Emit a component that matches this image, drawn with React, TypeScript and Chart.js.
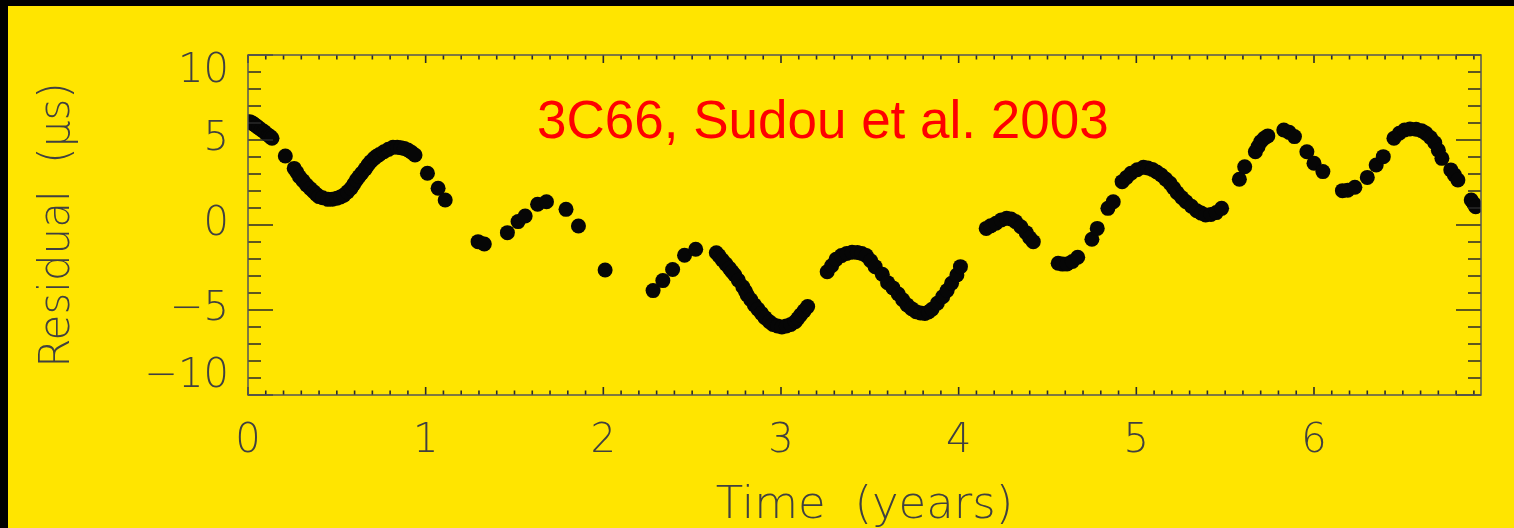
import React, { useEffect, useRef } from "react";
import { Chart, registerables } from "chart.js";

Chart.register(...registerables);

// ---- Data ----
const times = [
  0.01, 0.02, 0.03, 0.04, 0.05, 0.06, 0.075, 0.09, 0.1, 0.115, 0.125, 0.135,
  0.21, 0.26, 0.275, 0.29, 0.31, 0.33, 0.35, 0.37, 0.385, 0.4, 0.42, 0.45, 0.475, 0.5, 0.52, 0.54,
  0.56, 0.58, 0.595, 0.61, 0.625, 0.64, 0.66, 0.675, 0.69, 0.71, 0.725, 0.74, 0.765, 0.79, 0.816,
  0.84, 0.86, 0.88, 0.9, 0.92, 0.94, 1.01, 1.07, 1.11,
  1.295, 1.33, 1.46, 1.52, 1.56, 1.63, 1.68, 1.79, 1.86, 2.01,
  2.28, 2.335, 2.39, 2.457, 2.52, 2.636, 2.65, 2.67, 2.69, 2.71, 2.725, 2.74, 2.76, 2.785, 2.8,
  2.81, 2.83, 2.85, 2.87, 2.89, 2.91, 2.935, 2.955, 2.98, 3.005, 3.03, 3.055, 3.08, 3.095, 3.11,
  3.13, 3.15,
  3.26, 3.285, 3.31, 3.34, 3.37, 3.4, 3.43, 3.455, 3.48, 3.505, 3.53, 3.57, 3.6, 3.63, 3.66, 3.685,
  3.71, 3.735, 3.76, 3.785, 3.81, 3.83, 3.85, 3.88, 3.91, 3.935, 3.96, 3.99, 4.01,
  4.155, 4.18, 4.21, 4.24, 4.27, 4.295, 4.32, 4.35, 4.38, 4.4, 4.42,
  4.56, 4.585, 4.61, 4.64, 4.67, 4.75, 4.78, 4.84, 4.87, 4.92, 4.945, 4.97, 5.005, 5.04, 5.065,
  5.09, 5.115, 5.14, 5.165, 5.19, 5.21, 5.23, 5.255, 5.28, 5.31, 5.34, 5.365, 5.39, 5.42, 5.45, 5.48,
  5.58, 5.61, 5.67, 5.685, 5.7, 5.72, 5.74, 5.83, 5.86, 5.89, 5.96, 6.0, 6.05,
  6.16, 6.19, 6.23, 6.3, 6.35, 6.39, 6.45, 6.48, 6.51, 6.54, 6.575, 6.605, 6.63, 6.655, 6.68, 6.7,
  6.72, 6.77, 6.79, 6.81, 6.885, 6.9, 6.91,
];
const residuals = [
  6.08, 6.02, 5.95, 5.88, 5.8, 5.72, 5.6, 5.5, 5.4, 5.28, 5.2, 5.1,
  4.06, 3.33, 3.1, 2.84, 2.6, 2.35, 2.15, 1.96, 1.8, 1.67, 1.6, 1.51, 1.52, 1.57, 1.65, 1.76,
  1.95, 2.16, 2.4, 2.65, 2.85, 3.04, 3.3, 3.53, 3.72, 3.92, 4.05, 4.15, 4.31, 4.45, 4.57,
  4.58, 4.55, 4.5, 4.41, 4.28, 4.12, 3.04, 2.16, 1.47,
  -0.98, -1.12, -0.45, 0.2, 0.53, 1.22, 1.37, 0.92, -0.06, -2.65,
  -3.86, -3.27, -2.62, -1.78, -1.43, -1.63, -1.8, -2.06, -2.3, -2.55, -2.75, -2.94, -3.25, -3.63, -3.9,
  -4.12, -4.4, -4.7, -4.95, -5.2, -5.45, -5.69, -5.85, -5.94, -6.0, -5.94, -5.85, -5.69, -5.5, -5.29,
  -5.05, -4.8,
  -2.75, -2.4, -2.02, -1.8, -1.67, -1.6, -1.62, -1.68, -1.8, -2.1, -2.45, -2.9, -3.39, -3.7, -4.06, -4.4,
  -4.7, -4.92, -5.1, -5.18, -5.2, -5.12, -4.96, -4.6, -4.22, -3.85, -3.43, -2.94, -2.45,
  -0.2, -0.05, 0.1, 0.3, 0.4, 0.35, 0.2, -0.1, -0.45, -0.75, -0.98,
  -2.25, -2.3, -2.29, -2.15, -1.9, -0.84, -0.2, 0.98, 1.37, 2.55, 2.8, 3.04, 3.25, 3.39, 3.35,
  3.27, 3.12, 2.94, 2.7, 2.45, 2.18, 1.9, 1.62, 1.37, 1.1, 0.84, 0.7, 0.59, 0.62, 0.73, 0.98,
  2.69, 3.43, 4.31, 4.6, 4.9, 5.1, 5.24, 5.59, 5.45, 5.2, 4.31, 3.63, 3.14,
  2.02, 2.05, 2.22, 2.8, 3.53, 4.02, 5.1, 5.4, 5.59, 5.65, 5.63, 5.55, 5.39, 5.15, 4.84, 4.4,
  3.92, 3.24, 2.95, 2.65, 1.47, 1.25, 1.08,
];

const xTickValues = [0, 1, 2, 3, 4, 5, 6];
const xTickLabels = ["0", "1", "2", "3", "4", "5", "6"];
const yTickValues = [-10, -5, 0, 5, 10];
const yTickLabels = ["\u221210", "\u22125", "0", "5", "10"];

const titleText = "3C66, Sudou et al. 2003";
const xTitleText = "Time  (years)";
const yTitleText = "Residual  (\u03bcs)";

const X_MIN = 0;
const X_MAX = 6.94;
const Y_MIN = -10;
const Y_MAX = 10;

const YELLOW = "#ffe500";
const TEXT_GREY = "#404040";

const idlPlugin = {
  id: "idlFrame",
  beforeDraw(chart: any) {
    const { ctx, width, height } = chart;
    ctx.save();
    ctx.fillStyle = "#000";
    ctx.fillRect(0, 0, width, height);
    ctx.fillStyle = YELLOW;
    ctx.fillRect(8, 6, width - 8, height - 6);
    ctx.restore();
  },
  afterDatasetsDraw(chart: any) {
    const { ctx, chartArea, scales } = chart;
    const { left, right, top, bottom } = chartArea;
    const x = scales.x;
    const y = scales.y;
    ctx.save();

    // tick marks (inward, on all four sides)
    ctx.strokeStyle = "#2a2a2a";
    ctx.lineWidth = 1.6;
    ctx.beginPath();
    for (let i = 0; i <= 70; i++) {
      const v = i / 10;
      if (v > X_MAX + 1e-9) break;
      const px = x.getPixelForValue(v);
      const len = i % 10 === 0 ? 8 : 4.5;
      ctx.moveTo(px, bottom);
      ctx.lineTo(px, bottom - len);
      ctx.moveTo(px, top);
      ctx.lineTo(px, top + len);
    }
    for (let v = Y_MIN; v <= Y_MAX; v++) {
      const py = y.getPixelForValue(v);
      const len = v % 5 === 0 ? 25 : 13;
      ctx.moveTo(left, py);
      ctx.lineTo(left + len, py);
      ctx.moveTo(right, py);
      ctx.lineTo(right - len, py);
    }
    ctx.stroke();

    // frame
    ctx.strokeStyle = "#555";
    ctx.lineWidth = 1.5;
    ctx.strokeRect(left, top, right - left, bottom - top);

    // tick labels
    ctx.fillStyle = TEXT_GREY;
    ctx.font = '200 40px "DejaVu Sans"';
    ctx.textAlign = "center";
    ctx.textBaseline = "middle";
    xTickValues.forEach((v, i) => {
      ctx.fillText(xTickLabels[i], x.getPixelForValue(v), bottom + 47);
    });
    ctx.textAlign = "right";
    yTickValues.forEach((v, i) => {
      let py = y.getPixelForValue(v);
      py = Math.min(Math.max(py, top + 17), bottom - 18);
      ctx.fillText(yTickLabels[i], left - 19, py);
    });

    // axis titles
    ctx.font = '200 45px "DejaVu Sans"';
    ctx.textAlign = "center";
    ctx.textBaseline = "alphabetic";
    ctx.fillText(xTitleText, (left + right) / 2, 518);

    ctx.save();
    ctx.font = '200 42px "DejaVu Sans"';
    ctx.translate(58, (top + bottom) / 2);
    ctx.rotate(-Math.PI / 2);
    ctx.textAlign = "center";
    ctx.textBaseline = "middle";
    ctx.fillText(yTitleText, 0, 0);
    ctx.restore();

    // red annotation
    ctx.fillStyle = "#ff0000";
    ctx.font = '53px "Liberation Sans"';
    ctx.textAlign = "left";
    ctx.textBaseline = "alphabetic";
    ctx.fillText(titleText, 537, 138);

    ctx.restore();
  },
};

export default function App() {
  const ref = useRef<HTMLCanvasElement>(null);

  useEffect(() => {
    document.body.style.margin = "0";
    const canvas = ref.current;
    if (!canvas) return;
    const chart = new Chart(canvas, {
      type: "scatter",
      data: {
        datasets: [
          {
            data: times.map((t, i) => ({ x: t, y: residuals[i] })),
            backgroundColor: "#060606",
            borderColor: "#060606",
            borderWidth: 0,
            pointRadius: 7.5,
            pointHoverRadius: 7.5,
            clip: 0,
          } as any,
        ],
      },
      options: {
        responsive: false,
        animation: false,
        events: [],
        layout: { padding: { left: 248, right: 33, top: 55, bottom: 133 } },
        plugins: {
          legend: { display: false },
          tooltip: { enabled: false },
          title: { display: false },
        },
        scales: {
          x: { type: "linear", min: X_MIN, max: X_MAX, display: false },
          y: { type: "linear", min: Y_MIN, max: Y_MAX, display: false },
        },
      },
      plugins: [idlPlugin],
    });
    return () => chart.destroy();
  }, []);

  return (
    <div style={{ position: "absolute", left: 0, top: 0 }}>
      <canvas ref={ref} width={1514} height={528} style={{ display: "block" }} />
    </div>
  );
}
